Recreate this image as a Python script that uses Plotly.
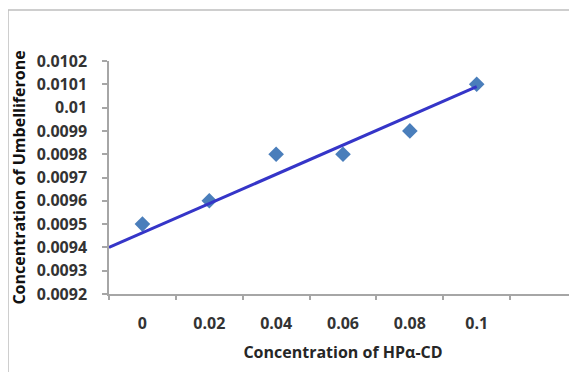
import plotly.graph_objects as go

concentration = [0, 0.02, 0.04, 0.06, 0.08, 0.1]
tick_labels = ["0", "0.02", "0.04", "0.06", "0.08", "0.1"]
umbelliferone = [0.0095, 0.0096, 0.0098, 0.0098, 0.0099, 0.0101]
trend_conc = [-0.01, 0.1]
trend_vals = [0.00940, 0.01009]
boundaries = [-0.01, 0.01, 0.03, 0.05, 0.07, 0.09, 0.11, 0.13]
y_ticks = [0.0092, 0.0093, 0.0094, 0.0095, 0.0096, 0.0097, 0.0098, 0.0099, 0.0100, 0.0101, 0.0102]
y_tick_labels = ["0.0092", "0.0093", "0.0094", "0.0095", "0.0096", "0.0097",
                 "0.0098", "0.0099", "0.01", "0.0101", "0.0102"]

font_family = "Open Sans"
axis_col = "#a6a6a6"

fig = go.Figure()
fig.add_trace(go.Scatter(x=concentration, y=umbelliferone, mode="markers",
                         marker=dict(symbol="diamond", size=12, color="#4A7EBB"),
                         showlegend=False, hoverinfo="skip"))
fig.add_trace(go.Scatter(x=trend_conc, y=trend_vals, mode="lines",
                         line=dict(color="#3535C8", width=3),
                         showlegend=False, hoverinfo="skip"))
fig.add_trace(go.Scatter(x=[boundaries[0], boundaries[-1]], y=[0.0092, 0.0092], xaxis="x2",
                         mode="markers", marker=dict(opacity=0), showlegend=False, hoverinfo="skip"))

fig.update_layout(
    width=569, height=364,
    margin=dict(l=101, r=0, t=53, b=78, autoexpand=False),
    paper_bgcolor="white", plot_bgcolor="white",
    xaxis=dict(range=[-0.01, 0.13], tickvals=concentration, ticktext=tick_labels,
               ticks="", showgrid=False, zeroline=False, showline=True, automargin=False,
               linecolor=axis_col, linewidth=1.5,
               tickfont=dict(family=font_family, size=16, color="#333333", weight="bold"),
               ticklabelstandoff=14,
               title=dict(text="Concentration of HPα-CD", standoff=14,
                          font=dict(family=font_family, size=16, color="#262626", weight="bold"))),
    xaxis2=dict(range=[-0.01, 0.13], overlaying="x", anchor="y", tickvals=boundaries,
                showticklabels=False, ticks="outside", ticklen=5, tickwidth=1.5, automargin=False,
                tickcolor=axis_col, showgrid=False, zeroline=False, side="bottom", showline=False),
    yaxis=dict(range=[0.0092, 0.0102], tickvals=y_ticks, ticktext=y_tick_labels, ticks="outside",
               ticklen=5, tickwidth=1.5, tickcolor=axis_col, showgrid=False, zeroline=False,
               showline=True, linecolor=axis_col, linewidth=1.5, automargin=False,
               tickfont=dict(family=font_family, size=16, color="#333333", weight="bold"),
               ticklabelstandoff=12,
               title=dict(text="Concentration of Umbelliferone", standoff=9,
                          font=dict(family=font_family, size=16, color="#111111", weight="bold"))),
    shapes=[dict(type="rect", xref="paper", yref="paper",
                 x0=-0.2158, x1=1.2, y0=-0.6, y1=1.219,
                 line=dict(color="#bfbfbf", width=1.5), fillcolor="rgba(0,0,0,0)", layer="below")],
)

fig.write_html("out.html")
